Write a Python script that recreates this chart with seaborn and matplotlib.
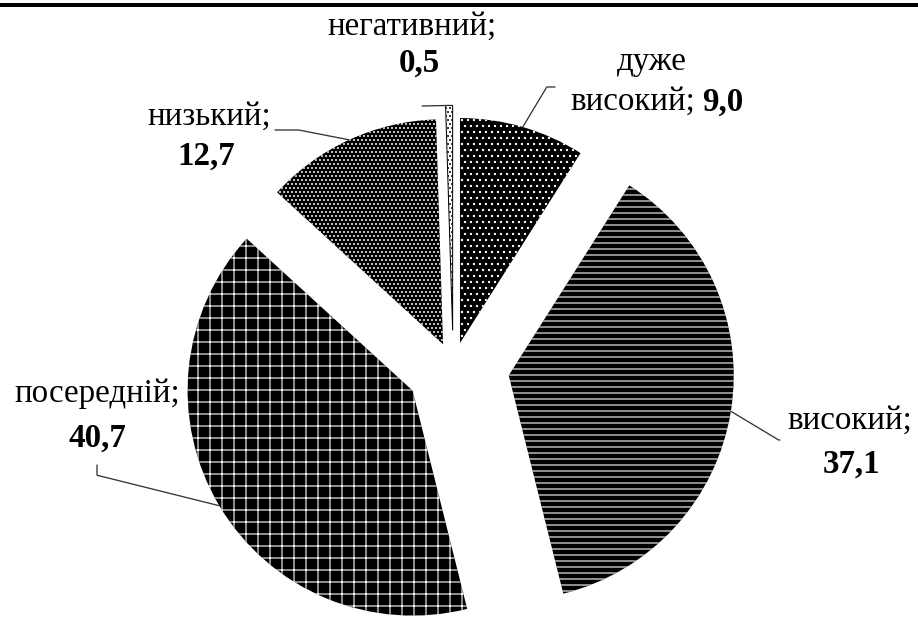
import numpy as np
import matplotlib
matplotlib.use("Agg")
import matplotlib.pyplot as plt
import seaborn as sns

# дані
categories = ["дуже високий", "високий", "посередній", "низький", "негативний"]
values = [9.0, 37.1, 40.7, 12.7, 0.5]
value_labels = ["9,0", "37,1", "40,7", "12,7", "0,5"]
explode = [0.108, 0.25, 0.21, 0.108, 0.16]
hatches = ["..", "--", "+", "...", "..."]

sns.set_theme(style="white")
plt.rcParams["font.family"] = ["Liberation Serif", "DejaVu Serif"]
plt.rcParams["hatch.linewidth"] = 1.1

DPI = 72
fig = plt.figure(figsize=(918 / DPI, 617 / DPI), dpi=DPI)
ax = fig.add_axes([0, 0, 1, 1])

wedges, _ = ax.pie(values, explode=explode, startangle=90, counterclock=False,
                   radius=1, colors=["black"] * 4 + ["white"],
                   wedgeprops=dict(linewidth=0))
for w, h in zip(wedges, hatches):
    w.set_hatch(h)
    w.set_edgecolor("white")
wedges[-1].set_edgecolor("black")
wedges[-1].set_linewidth(1)

# масштаб: 225 px на радіус
R, CX, CY = 225.0, 453.2, 366.4
ax.set_xlim(-CX / R, (918 - CX) / R)
ax.set_ylim(-(617 - CY) / R, CY / R)
ax.set_aspect("equal")
ax.axis("off")


def px(x, y):
    return ((x - CX) / R, (CY - y) / R)


def edge_point(w):
    mid = np.deg2rad((w.theta1 + w.theta2) / 2)
    return (w.center[0] + w.r * np.cos(mid), w.center[1] + w.r * np.sin(mid))


fs = 33
norm = dict(fontsize=fs, color="black", va="center")
bold = dict(fontsize=fs, color="black", va="center", fontweight="bold")

# дуже високий
ax.text(*px(652, 62), "дуже", ha="center", **norm)
ax.text(*px(695, 102), "високий;", ha="right", **norm)
ax.text(*px(702, 102), value_labels[0], ha="left", **bold)
# високий
ax.text(*px(850, 421), "високий;", ha="center", **norm)
ax.text(*px(851, 464), value_labels[1], ha="center", **bold)
# посередній
ax.text(*px(97, 394), "посередній;", ha="center", **norm)
ax.text(*px(97, 438), value_labels[2], ha="center", **bold)
# низький
ax.text(*px(209, 117), "низький;", ha="center", **norm)
ax.text(*px(206, 156), value_labels[3], ha="center", **bold)
# негативний
ax.text(*px(412, 27), "негативний;", ha="center", **norm)
ax.text(*px(419, 63), value_labels[4], ha="center", **bold)

lead = dict(arrowstyle="-", color="#333333", lw=1.3, shrinkA=0, shrinkB=0)
ax.annotate("", xy=edge_point(wedges[0]), xytext=px(555, 87),
            arrowprops=dict(connectionstyle="angle,angleA=0,angleB=59,rad=0", **lead))
ax.annotate("", xy=edge_point(wedges[1]), xytext=px(780, 440),
            arrowprops=dict(connectionstyle="angle,angleA=0,angleB=-31,rad=0", **lead))
ax.annotate("", xy=edge_point(wedges[2]), xytext=px(97, 465),
            arrowprops=dict(connectionstyle="angle,angleA=90,angleB=-14,rad=0", **lead))
ax.annotate("", xy=edge_point(wedges[3]), xytext=px(275, 130),
            arrowprops=dict(connectionstyle="angle,angleA=0,angleB=-11,rad=0", **lead))
ax.annotate("", xy=edge_point(wedges[4]), xytext=px(422, 106),
            arrowprops=dict(connectionstyle="arc3", **lead))

# верхня лінія
fig.add_artist(plt.Line2D([0, 1], [1 - 5 / 617, 1 - 5 / 617], color="black",
                          lw=4, transform=fig.transFigure))

fig.savefig("out.png", dpi=DPI)
